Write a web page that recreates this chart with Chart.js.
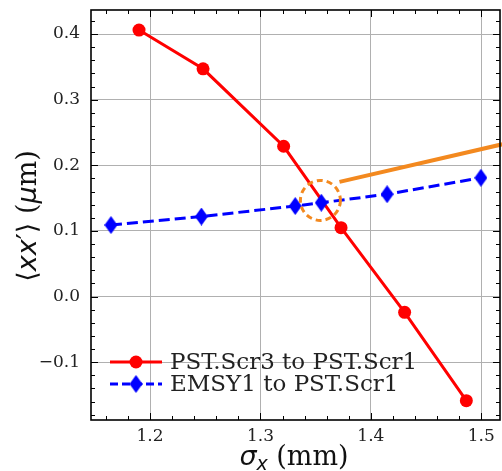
<!DOCTYPE html>
<html>
<head>
<meta charset="utf-8">
<script src="https://cdn.jsdelivr.net/npm/chart.js@4/dist/chart.umd.min.js"></script>
<style>
html,body{margin:0;padding:0;background:#fff;}
#wrap{width:502px;height:471px;position:relative;}
</style>
</head>
<body>
<div id="wrap"><canvas id="c"></canvas></div>
<script>
// ---- data ----
const redName = 'PST.Scr3 to PST.Scr1';
const redX = [1.190, 1.248, 1.321, 1.373, 1.4306, 1.4865];
const redY = [0.406, 0.347, 0.229, 0.105, -0.024, -0.1585];

const blueName = 'EMSY1 to PST.Scr1';
const blueX = [1.1646, 1.2465, 1.3315, 1.3551, 1.4147, 1.4997];
const blueY = [0.109, 0.122, 0.138, 0.143, 0.156, 0.181];

const arrowX = [1.3716, 1.519];
const arrowY = [0.1748, 0.232];
const circleCenter = [1.3543, 0.1465];

const xTickValues = [1.2, 1.3, 1.4, 1.5];
const xTickLabels = ['1.2', '1.3', '1.4', '1.5'];
const yTickValues = [-0.1, 0.0, 0.1, 0.2, 0.3, 0.4];
const yTickLabels = ['\u22120.1', '0.0', '0.1', '0.2', '0.3', '0.4'];
const xRange = [1.1465, 1.517];
const yRange = [-0.188, 0.4366];
const minorStep = 0.02;

const RED = '#ff0000', BLUE = '#0000ff', ORANGE = '#f3891f';

function diamondCanvas(w, h, color) {
  const c = document.createElement('canvas');
  c.width = w; c.height = h;
  const g = c.getContext('2d');
  g.fillStyle = color;
  g.beginPath();
  g.moveTo(w / 2, 0); g.lineTo(w, h / 2); g.lineTo(w / 2, h); g.lineTo(0, h / 2);
  g.closePath(); g.fill();
  return c;
}
const diamond = diamondCanvas(13, 18, BLUE);

const pts = (xs, ys) => xs.map((x, i) => ({x: x, y: ys[i]}));

const circlePlugin = {
  id: 'circleMark',
  afterDatasetsDraw(chart) {
    const ctx = chart.ctx, xs = chart.scales.x, ys = chart.scales.y;
    ctx.save();
    ctx.strokeStyle = ORANGE; ctx.lineWidth = 3; ctx.setLineDash([6, 4]);
    ctx.beginPath();
    ctx.arc(xs.getPixelForValue(circleCenter[0]), ys.getPixelForValue(circleCenter[1]), 20, 0, Math.PI * 2);
    ctx.stroke();
    ctx.restore();
  }
};

const framePlugin = {
  id: 'frameTicks',
  afterDraw(chart) {
    const ctx = chart.ctx, a = chart.chartArea, xs = chart.scales.x, ys = chart.scales.y;
    ctx.save();
    ctx.strokeStyle = '#000'; ctx.lineWidth = 1;
    ctx.beginPath();
    const tick = (v, len, axis) => {
      if (axis === 'x') {
        const p = Math.round(xs.getPixelForValue(v)) + 0.5;
        if (p < a.left || p > a.right) return;
        ctx.moveTo(p, a.bottom); ctx.lineTo(p, a.bottom - len);
        ctx.moveTo(p, a.top); ctx.lineTo(p, a.top + len);
      } else {
        const p = Math.round(ys.getPixelForValue(v)) + 0.5;
        if (p < a.top || p > a.bottom) return;
        ctx.moveTo(a.left, p); ctx.lineTo(a.left + len, p);
        ctx.moveTo(a.right, p); ctx.lineTo(a.right - len, p);
      }
    };
    for (let v = Math.ceil(xRange[0] / minorStep) * minorStep; v <= xRange[1]; v += minorStep) tick(v, 4, 'x');
    for (let v = Math.ceil(yRange[0] / minorStep) * minorStep; v <= yRange[1]; v += minorStep) tick(v, 4, 'y');
    xTickValues.forEach(v => tick(v, 7, 'x'));
    yTickValues.forEach(v => tick(v, 7, 'y'));
    ctx.stroke();
    ctx.lineWidth = 1.6;
    ctx.strokeRect(a.left, a.top, a.right - a.left, a.bottom - a.top);

    // legend
    const lx = 110, lw = 52, tx = 170, rows = [362, 384];
    ctx.font = '23px "DejaVu Serif"';
    ctx.textBaseline = 'middle'; ctx.textAlign = 'left'; ctx.fillStyle = '#222';
    ctx.strokeStyle = RED; ctx.lineWidth = 3; ctx.setLineDash([]);
    ctx.beginPath(); ctx.moveTo(lx, rows[0]); ctx.lineTo(lx + lw, rows[0]); ctx.stroke();
    ctx.fillStyle = RED; ctx.beginPath(); ctx.arc(lx + lw / 2, rows[0], 6.5, 0, Math.PI * 2); ctx.fill();
    ctx.strokeStyle = BLUE; ctx.setLineDash([8, 4]);
    ctx.beginPath(); ctx.moveTo(lx, rows[1]); ctx.lineTo(lx + lw, rows[1]); ctx.stroke();
    ctx.setLineDash([]);
    ctx.drawImage(diamond, lx + lw / 2 - diamond.width / 2, rows[1] - diamond.height / 2);
    ctx.fillStyle = '#222';
    ctx.fillText(redName, tx, rows[0] + 1);
    ctx.fillText(blueName, tx, rows[1] + 1);

    // axis titles
    const drawPieces = (pieces, cx, baseY) => {
      let total = 0;
      pieces.forEach(p => { ctx.font = p.f; p.w = ctx.measureText(p.t).width; total += p.w; });
      let x = cx - total / 2;
      ctx.textBaseline = 'alphabetic';
      pieces.forEach(p => { ctx.font = p.f; ctx.fillText(p.t, x, baseY + (p.dy || 0)); x += p.w; });
    };
    ctx.fillStyle = '#111';
    drawPieces([
      {t: '\u03c3', f: 'italic 27px "DejaVu Sans"'},
      {t: 'x', f: 'italic 19px "DejaVu Sans"', dy: 5},
      {t: ' (mm)', f: '27px "DejaVu Serif"'}
    ], 294, 465);
    ctx.save();
    ctx.translate(36, 216);
    ctx.rotate(-Math.PI / 2);
    drawPieces([
      {t: '\u27e8', f: '27px "DejaVu Sans"'},
      {t: 'xx', f: 'italic 27px "DejaVu Sans"'},
      {t: '\u2032', f: '27px "DejaVu Sans"'},
      {t: '\u27e9', f: '27px "DejaVu Sans"'},
      {t: ' (', f: '27px "DejaVu Serif"'},
      {t: '\u03bc', f: 'italic 27px "DejaVu Sans"'},
      {t: 'm)', f: '27px "DejaVu Serif"'}
    ], 0, 0);
    ctx.restore();
    ctx.restore();
  }
};

const zeroPad = s => { s.paddingLeft = 0; s.paddingRight = 0; s.paddingTop = 0; s.paddingBottom = 0; };

new Chart(document.getElementById('c'), {
  type: 'scatter',
  data: {
    datasets: [
      {label: 'arrow', data: pts(arrowX, arrowY), showLine: true, borderColor: ORANGE, borderWidth: 4,
       pointRadius: 0, order: 0, clip: 4},
      {label: blueName, data: pts(blueX, blueY), showLine: true, borderColor: BLUE, borderWidth: 3,
       borderDash: [11, 5], pointStyle: diamond, pointRadius: 8, pointBackgroundColor: BLUE, order: 1},
      {label: redName, data: pts(redX, redY), showLine: true, borderColor: RED, borderWidth: 3,
       pointRadius: 6.5, pointBackgroundColor: RED, pointBorderWidth: 0, order: 2}
    ]
  },
  options: {
    responsive: true, maintainAspectRatio: false, animation: false,
    layout: {autoPadding: false, padding: {top: 10, right: 2, left: 0, bottom: 0}},
    plugins: {legend: {display: false}, tooltip: {enabled: false}},
    scales: {
      x: {
        type: 'linear', min: xRange[0], max: xRange[1],
        afterBuildTicks: s => { s.ticks = xTickValues.map(v => ({value: v})); },
        afterFit: s => { s.height = 51; zeroPad(s); },
        ticks: {callback: (v, i) => xTickLabels[i], font: {family: '"DejaVu Serif"', size: 17}, color: '#222',
                padding: 6, maxRotation: 0, autoSkip: false},
        grid: {color: '#b0b0b0', lineWidth: 1, drawTicks: false},
        border: {display: false}
      },
      y: {
        type: 'linear', min: yRange[0], max: yRange[1],
        afterBuildTicks: s => { s.ticks = yTickValues.map(v => ({value: v})); },
        afterFit: s => { s.width = 91; zeroPad(s); },
        ticks: {callback: (v, i) => yTickLabels[i], font: {family: '"DejaVu Serif"', size: 17}, color: '#222',
                padding: 11, autoSkip: false},
        grid: {color: '#b0b0b0', lineWidth: 1, drawTicks: false},
        border: {display: false}
      }
    }
  },
  plugins: [circlePlugin, framePlugin]
});
</script>
</body>
</html>
